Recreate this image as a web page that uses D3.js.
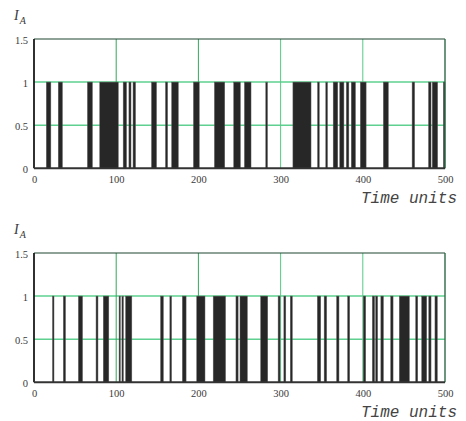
<!DOCTYPE html>
<html lang="en">
<head>
    <meta charset="UTF-8">
    <title>I_A over time</title>
    <script src="https://cdnjs.cloudflare.com/ajax/libs/d3/7.8.5/d3.min.js"></script>
    <style>
    html, body {
        margin: 0;
        background: #fff;
    }

    .tick text {
        font-family: "Liberation Serif", "DejaVu Serif", serif;
        font-size: 10.5px;
        fill: #3a3a3a;
    }

    .ylabel {
        font-family: "Liberation Serif", serif;
        font-style: italic;
        fill: #3a3a3a;
    }

    .xlabel {
        font-family: "Liberation Mono", "DejaVu Sans Mono", monospace;
        font-style: italic;
        font-size: 16px;
        fill: #444;
    }
    </style>
</head>
<body>
    <div id="vis"></div>
    <script>
    // x / y ticks
    var xTicks = [0, 100, 200, 300, 400, 500];
    var yTicks = [0, 0.5, 1, 1.5];
    var xGrid = [100, 200, 300, 400];
    var yGrid = [0.5, 1];

    // intervals where I_A = 1 (start, end in time units)
    var pulsesTop = [
        [15, 20.5], [29.5, 34.5], [65, 71], [80, 102.5], [108.5, 112.5],
        [115.5, 118], [120.5, 123.5], [143, 149], [160, 162.5], [167.5, 175.5],
        [194, 201], [219.5, 232], [243, 251], [256, 264], [282, 284],
        [315, 337], [345, 347], [355, 357], [364, 369.5], [372, 377],
        [380, 383], [386, 391], [397, 404], [425, 431], [460, 463],
        [480, 483], [484.5, 491], [498, 500]
    ];

    var pulsesBottom = [
        [22.5, 24.3], [35.7, 38.3], [54, 59], [75.5, 77.8], [84.3, 91],
        [103.5, 105], [107, 108.7], [111.5, 119], [154, 157.3], [165.3, 167.3],
        [180.5, 185], [198, 208], [218, 233], [245.7, 248.3], [250.6, 259.5],
        [275.8, 284.3], [297, 299.3], [304, 306.3], [311.8, 314.2], [344.7, 348.8],
        [353, 356], [368.2, 371], [381.6, 384], [400.6, 403.5], [411.6, 414.3],
        [415.7, 418], [422, 425], [434, 436.8], [444.4, 456.6], [464.4, 466.8],
        [471.7, 477.7], [480.3, 483], [487.8, 490.6]
    ];

    var width = 466;
    var height = 421;

    var svg = d3.select('#vis')
        .append('svg')
            .attr('width', width)
            .attr('height', height);

    var x_scale = d3.scaleLinear()
        .domain([0, 500])
        .range([34, 445]);

    function drawPanel(top, pulses) {
        var y_scale = d3.scaleLinear()
            .domain([0, 1.5])
            .range([top + 129.3, top]);

        var g = svg.append('g');

        // label I_A
        var lab = g.append('text')
            .attr('class', 'ylabel')
            .attr('x', 14)
            .attr('y', top - 19);
        lab.append('tspan')
            .attr('font-size', '14px')
            .text('I');
        lab.append('tspan')
            .attr('font-size', '10px')
            .attr('dx', 1)
            .attr('dy', 4)
            .text('A');

        // grid
        g.selectAll('.hgrid')
            .data(yGrid)
            .enter()
            .append('line')
            .attr('x1', x_scale(0))
            .attr('x2', x_scale(500))
            .attr('y1', function(d){ return y_scale(d); })
            .attr('y2', function(d){ return y_scale(d); })
            .attr('stroke', '#5fd08f')
            .attr('stroke-width', 1.5);

        g.selectAll('.vgrid')
            .data(xGrid)
            .enter()
            .append('line')
            .attr('x1', function(d){ return x_scale(d); })
            .attr('x2', function(d){ return x_scale(d); })
            .attr('y1', y_scale(1.5))
            .attr('y2', y_scale(0))
            .attr('stroke', function(d){ return d < 250 ? '#2faa5c' : '#55cc85'; })
            .attr('stroke-width', 1);

        // pulses
        g.selectAll('.pulse')
            .data(pulses)
            .enter()
            .append('rect')
            .attr('class', 'pulse')
            .attr('x', function(d){ return x_scale(d[0]); })
            .attr('width', function(d){ return Math.max(1.2, x_scale(d[1]) - x_scale(d[0])); })
            .attr('y', y_scale(1))
            .attr('height', y_scale(0) - y_scale(1))
            .attr('fill', '#272727')
            .attr('stroke', '#5a5a5a')
            .attr('stroke-width', 0.5);

        // frame
        g.append('line')
            .attr('x1', x_scale(0)).attr('x2', x_scale(500))
            .attr('y1', y_scale(1.5)).attr('y2', y_scale(1.5))
            .attr('stroke', '#1f4630')
            .attr('stroke-width', 1.2);
        g.append('line')
            .attr('x1', x_scale(500)).attr('x2', x_scale(500))
            .attr('y1', y_scale(1.5)).attr('y2', y_scale(0))
            .attr('stroke', '#2d6a45')
            .attr('stroke-width', 1.4);
        g.append('line')
            .attr('x1', x_scale(0)).attr('x2', x_scale(0))
            .attr('y1', y_scale(1.5)).attr('y2', y_scale(0))
            .attr('stroke', '#1a1a1a')
            .attr('stroke-width', 1.8);
        g.append('line')
            .attr('x1', x_scale(0)).attr('x2', x_scale(500))
            .attr('y1', y_scale(0)).attr('y2', y_scale(0))
            .attr('stroke', '#333')
            .attr('stroke-width', 2);

        // axes (labels only)
        var x_axis = d3.axisBottom(x_scale)
            .tickValues(xTicks)
            .tickFormat(d3.format('d'))
            .tickSize(0)
            .tickPadding(7);

        var y_axis = d3.axisLeft(y_scale)
            .tickValues(yTicks)
            .tickFormat(function(d){ return d; })
            .tickSize(0)
            .tickPadding(6);

        g.append('g')
            .attr('transform', 'translate(0,' + y_scale(0) + ')')
            .call(x_axis)
            .call(function(a){ a.select('.domain').remove(); });

        g.append('g')
            .attr('transform', 'translate(' + x_scale(0) + ',1)')
            .call(y_axis)
            .call(function(a){ a.select('.domain').remove(); });

        g.append('text')
            .attr('class', 'xlabel')
            .attr('x', 361)
            .attr('y', y_scale(0) + 35)
            .text('Time units');
    }

    drawPanel(39, pulsesTop);
    drawPanel(253, pulsesBottom);
    </script>
</body>
</html>
